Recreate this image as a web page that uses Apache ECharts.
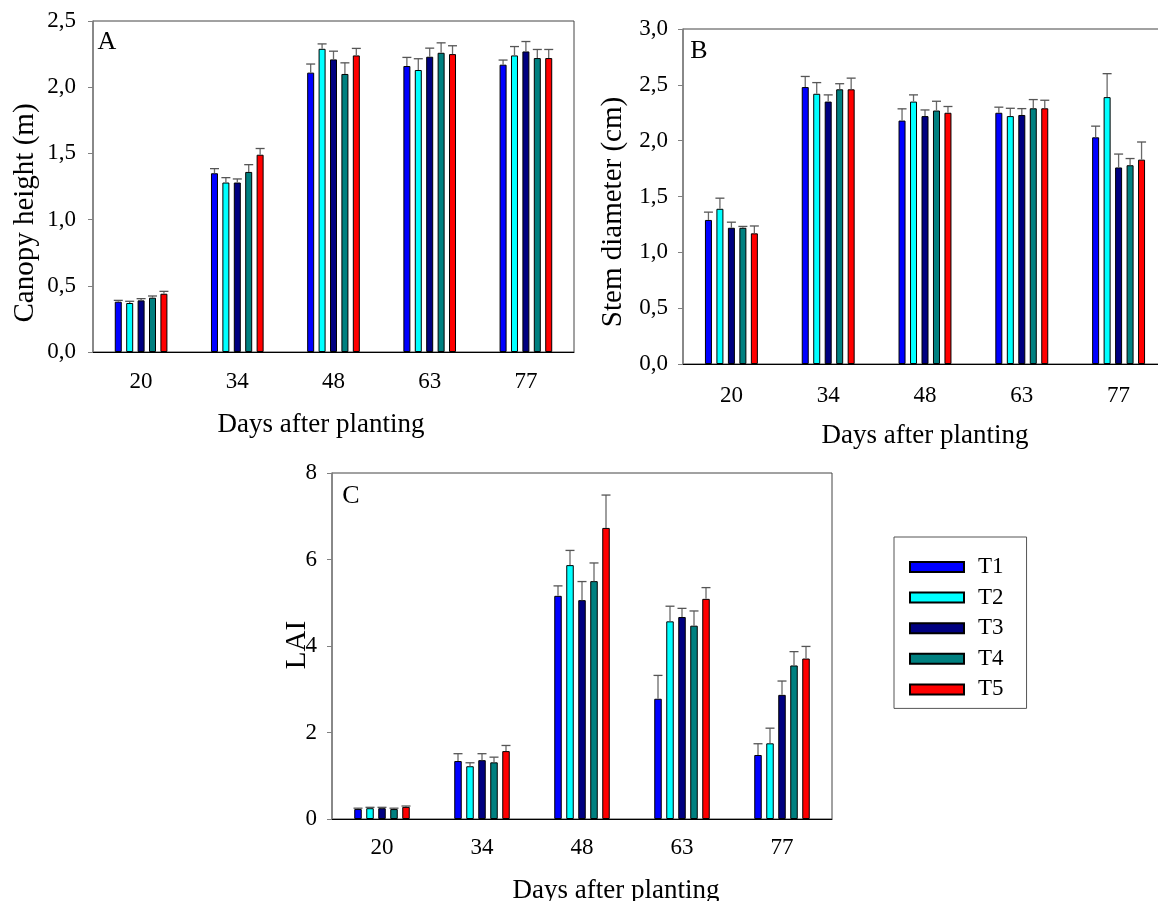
<!DOCTYPE html>
<html>
<head>
<meta charset="UTF-8">
<title>Canopy height, stem diameter and LAI</title>
<script type="text/javascript" src="https://cdn.jsdelivr.net/npm/echarts@6/dist/echarts.min.js"></script>
<style>
    *{margin:0;padding:0}
    html,body{width:100%;height:100%;background:#fff}
    #main{width:1158px;height:901px}
</style>
</head>
<body>
<div id="main"></div>
<script type="text/javascript">
// categories (days after planting) and treatments
var days = ['20', '34', '48', '63', '77'];
var treatments = ['T1', 'T2', 'T3', 'T4', 'T5'];
var colors = ['#0000ff', '#00ffff', '#000080', '#008080', '#ff0000'];

// A - canopy height (m), one row per treatment
var canopyMean = [
    [0.38, 1.35, 2.11, 2.16, 2.17],
    [0.37, 1.28, 2.29, 2.13, 2.24],
    [0.39, 1.28, 2.21, 2.23, 2.27],
    [0.41, 1.36, 2.10, 2.26, 2.22],
    [0.44, 1.49, 2.24, 2.25, 2.22]
];
var canopyErr = [
    [0.01, 0.035, 0.065, 0.065, 0.035],
    [0.013, 0.037, 0.037, 0.085, 0.067],
    [0.013, 0.027, 0.062, 0.065, 0.075],
    [0.013, 0.055, 0.084, 0.075, 0.065],
    [0.018, 0.047, 0.053, 0.063, 0.065]
];

// B - stem diameter (cm)
var stemMean = [
    [1.29, 2.48, 2.18, 2.25, 2.03],
    [1.39, 2.42, 2.35, 2.22, 2.39],
    [1.22, 2.35, 2.22, 2.23, 1.76],
    [1.22, 2.46, 2.27, 2.29, 1.78],
    [1.17, 2.46, 2.25, 2.29, 1.83]
];
var stemErr = [
    [0.07, 0.095, 0.105, 0.05, 0.10],
    [0.095, 0.10, 0.06, 0.07, 0.21],
    [0.05, 0.06, 0.055, 0.057, 0.12],
    [0.012, 0.05, 0.083, 0.078, 0.06],
    [0.066, 0.10, 0.056, 0.072, 0.158]
];

// C - LAI
var laiMean = [
    [0.23, 1.34, 5.16, 2.78, 1.48],
    [0.25, 1.22, 5.87, 4.57, 1.75],
    [0.25, 1.36, 5.06, 4.67, 2.87],
    [0.23, 1.31, 5.50, 4.47, 3.55],
    [0.28, 1.57, 6.73, 5.09, 3.71]
];
var laiErr = [
    [0.02, 0.17, 0.23, 0.54, 0.26],
    [0.02, 0.08, 0.34, 0.35, 0.35],
    [0.02, 0.15, 0.43, 0.20, 0.32],
    [0.02, 0.12, 0.42, 0.34, 0.32],
    [0.02, 0.13, 0.76, 0.26, 0.28]
];

var FONT = '"Liberation Serif", "Times New Roman", serif';

var panels = [
    {mean: canopyMean, err: canopyErr, max: 2.5, interval: 0.5, dec: 1, barW: 7, gap: 0.63,
     grid: {left: 93, top: 21, width: 481, height: 331}, yMargin: 17, xMargin: 18},
    // B is cut off on the right in the original figure
    {mean: stemMean, err: stemErr, max: 3, interval: 0.5, dec: 1, barW: 7, gap: 0.64,
     grid: {left: 683, top: 29, width: 484, height: 335}, yMargin: 15, xMargin: 20},
    {mean: laiMean, err: laiErr, max: 8, interval: 2, dec: 0, barW: 7.5, gap: 0.6,
     grid: {left: 332, top: 473, width: 500, height: 346}, yMargin: 15, xMargin: 17}
];

function errRender(pitch) {
    return function (params, api) {
        var c = api.value(0), t = api.value(1), m = api.value(2), e = api.value(3);
        var base = api.coord([c, m]);
        var top = api.coord([c, m + e]);
        var x = base[0] + (t - 2) * pitch;
        return {
            type: 'group',
            children: [
                {type: 'line', shape: {x1: x, y1: base[1], x2: x, y2: top[1]},
                 style: {stroke: '#6a6a6a', lineWidth: 1.3}},
                {type: 'line', shape: {x1: x - 4.5, y1: top[1], x2: x + 4.5, y2: top[1]},
                 style: {stroke: '#555', lineWidth: 1.3}}
            ]
        };
    };
}

var grids = [], xAxes = [], yAxes = [], series = [];
panels.forEach(function (p, gi) {
    grids.push(Object.assign({show: true, borderColor: '#444', borderWidth: 1,
        containLabel: false, outerBoundsMode: 'none'}, p.grid));
    xAxes.push({
        type: 'category', gridIndex: gi, data: days,
        axisLine: {lineStyle: {color: '#000', width: 1}},
        axisTick: {alignWithLabel: true, length: 4, lineStyle: {color: '#000'}},
        axisLabel: {color: '#000', fontFamily: FONT, fontSize: 23, margin: p.xMargin},
        splitLine: {show: false}
    });
    yAxes.push({
        type: 'value', gridIndex: gi, min: 0, max: p.max, interval: p.interval,
        axisLine: {show: true, lineStyle: {color: '#808080', width: 1.5}},
        axisTick: {show: true, length: 5, lineStyle: {color: '#808080'}},
        axisLabel: {color: '#000', fontFamily: FONT, fontSize: 23, margin: p.yMargin,
            formatter: function (v) { return v.toFixed(p.dec).replace('.', ','); }},
        splitLine: {show: false}
    });
    treatments.forEach(function (name, ti) {
        series.push({
            name: name, type: 'bar', xAxisIndex: gi, yAxisIndex: gi,
            data: p.mean[ti], barWidth: p.barW, barGap: Math.round(p.gap * 100) + '%',
            itemStyle: {color: colors[ti], borderColor: '#000', borderWidth: 1},
            emphasis: {disabled: true}, z: 2
        });
    });
    var errData = [];
    for (var c = 0; c < days.length; c++) {
        for (var t = 0; t < treatments.length; t++) {
            errData.push([c, t, p.mean[t][c], p.err[t][c]]);
        }
    }
    series.push({
        name: 'err' + gi, type: 'custom', xAxisIndex: gi, yAxisIndex: gi,
        renderItem: errRender(p.barW * (1 + p.gap)),
        encode: {x: 0, y: 2}, data: errData, z: 3, silent: true
    });
});

function label(text, x, y, size, rot) {
    return {
        type: 'text', x: x, y: y, rotation: rot || 0, z: 10,
        style: {text: text, font: size + 'px ' + FONT, fill: '#000',
            align: 'center', verticalAlign: 'middle', textAlign: 'center', textVerticalAlign: 'middle'}
    };
}

var option = {
    animation: false,
    backgroundColor: '#fff',
    grid: grids,
    xAxis: xAxes,
    yAxis: yAxes,
    legend: {
        data: treatments, orient: 'vertical', left: 894, top: 537,
        padding: [18, 23, 7, 15], borderColor: '#555', borderWidth: 1,
        itemWidth: 54, itemHeight: 10, itemGap: 6.6, icon: 'rect',
        textStyle: {fontFamily: FONT, fontSize: 23, lineHeight: 24, color: '#000', padding: [0, 0, 0, 9]},
        selectedMode: false
    },
    graphic: [
        label('Canopy height (m)', 25, 213, 29, Math.PI / 2),
        label('Stem diameter (cm)', 613, 212, 29, Math.PI / 2),
        label('LAI', 297, 645, 29, Math.PI / 2),
        label('Days after planting', 321, 425, 27),
        label('Days after planting', 925, 436, 27),
        label('Days after planting', 616, 891, 27),
        label('A', 107, 42, 26),
        label('B', 699, 51, 26),
        label('C', 351, 496, 26)
    ],
    series: series
};

var myChart = echarts.init(document.getElementById('main'));
myChart.setOption(option);
</script>
</body>
</html>
